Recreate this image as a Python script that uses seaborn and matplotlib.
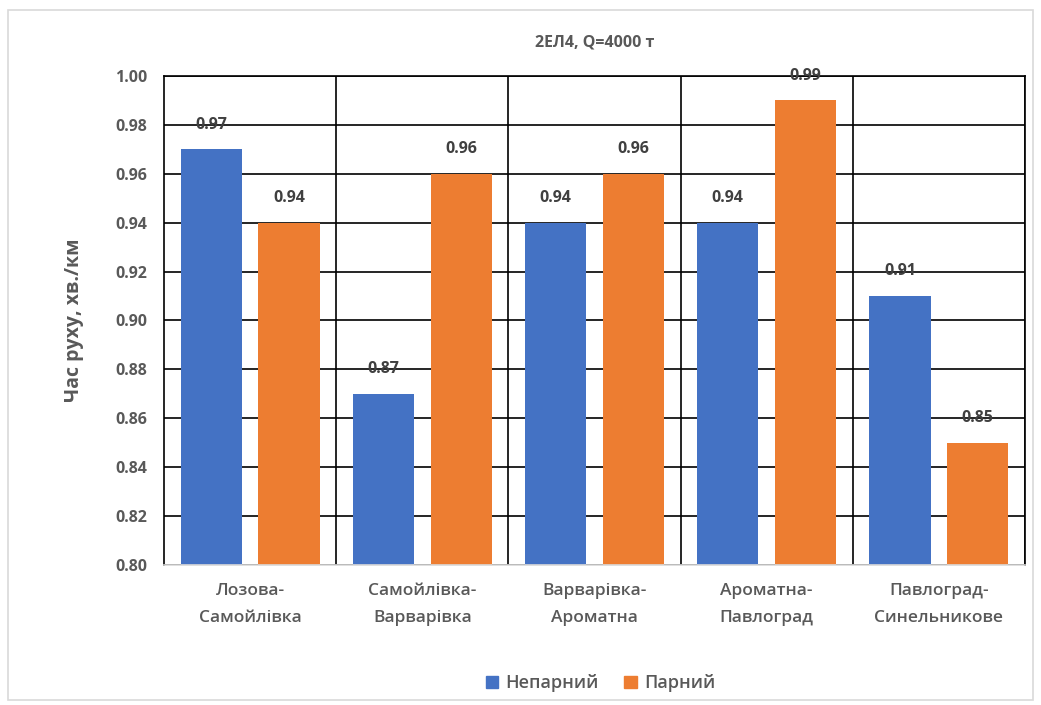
import matplotlib
matplotlib.use("Agg")
import matplotlib.pyplot as plt
import seaborn as sns
import pandas as pd
import numpy as np
from matplotlib.patches import Rectangle

sections = ["Лозова-\nСамойлівка", "Самойлівка-\nВарварівка", "Варварівка-\nАроматна",
            "Ароматна-\nПавлоград", "Павлоград-\nСинельникове"]
odd_dir = [0.97, 0.87, 0.94, 0.94, 0.91]
even_dir = [0.94, 0.96, 0.96, 0.99, 0.85]
series = ["Непарний", "Парний"]
colors = ["#4472C4", "#ED7D31"]

df = pd.DataFrame({
    "section": sections * 2,
    "value": odd_dir + even_dir,
    "dir": [series[0]] * len(sections) + [series[1]] * len(sections),
})

sns.set_theme(style="white")
plt.rcParams["font.family"] = ["Open Sans", "DejaVu Sans"]

fig = plt.figure(figsize=(10.41, 7.05), dpi=100)
ax = fig.add_axes([0.1575, 0.1986, 0.8271, 0.6936])

sns.barplot(data=df, x="section", y="value", hue="dir", hue_order=series,
            palette=colors, width=0.904, gap=0.215, ax=ax, saturation=1,
            edgecolor="none", linewidth=0)

ax.set_ylim(0.80, 1.00)
ax.set_xlim(-0.5, len(sections) - 0.5)
ax.set_yticks(np.arange(0.80, 1.001, 0.02))
ax.set_yticklabels([f"{v:.2f}" for v in np.arange(0.80, 1.001, 0.02)])
ax.set_xticks(np.arange(len(sections)) + 0.5, minor=True)
ax.set_axisbelow(True)
ax.grid(axis="y", which="major", color="black", linewidth=1.2)
ax.grid(axis="x", which="minor", color="black", linewidth=1.2)
ax.grid(axis="x", which="major", visible=False)
ax.tick_params(axis="both", which="both", length=0)
ax.tick_params(axis="y", labelsize=11.5, labelcolor="#595959", pad=12)
ax.tick_params(axis="x", labelsize=12.5, labelcolor="#595959", pad=13)
for lbl in ax.get_yticklabels():
    lbl.set_fontweight("bold")
for lbl in ax.get_xticklabels():
    lbl.set_linespacing(1.95)
    lbl.set_fontweight("semibold")

for side in ["left", "top", "right"]:
    ax.spines[side].set_color("black")
    ax.spines[side].set_linewidth(1.2)
ax.spines["bottom"].set_color("#D9D9D9")
ax.spines["bottom"].set_linewidth(1.2)

ax.set_xlabel("")
ax.set_ylabel("Час руху, хв./км", fontsize=14, fontweight="bold", color="#595959", labelpad=22)

for cont in ax.containers:
    ax.bar_label(cont, fmt="%.2f", padding=12, fontsize=11.5, fontweight="bold", color="#404040")

ax.set_title("2ЕЛ4, Q=4000 т", fontsize=11.5, color="#595959", pad=21, fontweight="bold")

ax.legend_.remove()
handles = [Rectangle((0, 0), 1, 1, color=c) for c in colors]
fig.legend(handles, series, loc="center", bbox_to_anchor=(0.577, 0.031), ncol=2,
           frameon=False, handlelength=0.7, handleheight=0.7,
           columnspacing=1.4, handletextpad=0.4,
           prop={"size": 13, "weight": "semibold"})
for t in fig.legends[0].get_texts():
    t.set_color("#595959")

fig.patches.append(Rectangle((8 / 1041, 5 / 705), 1025 / 1041, 690 / 705,
                             transform=fig.transFigure, fill=False,
                             edgecolor="#D9D9D9", linewidth=1.2))

fig.savefig("out.png", dpi=100)
